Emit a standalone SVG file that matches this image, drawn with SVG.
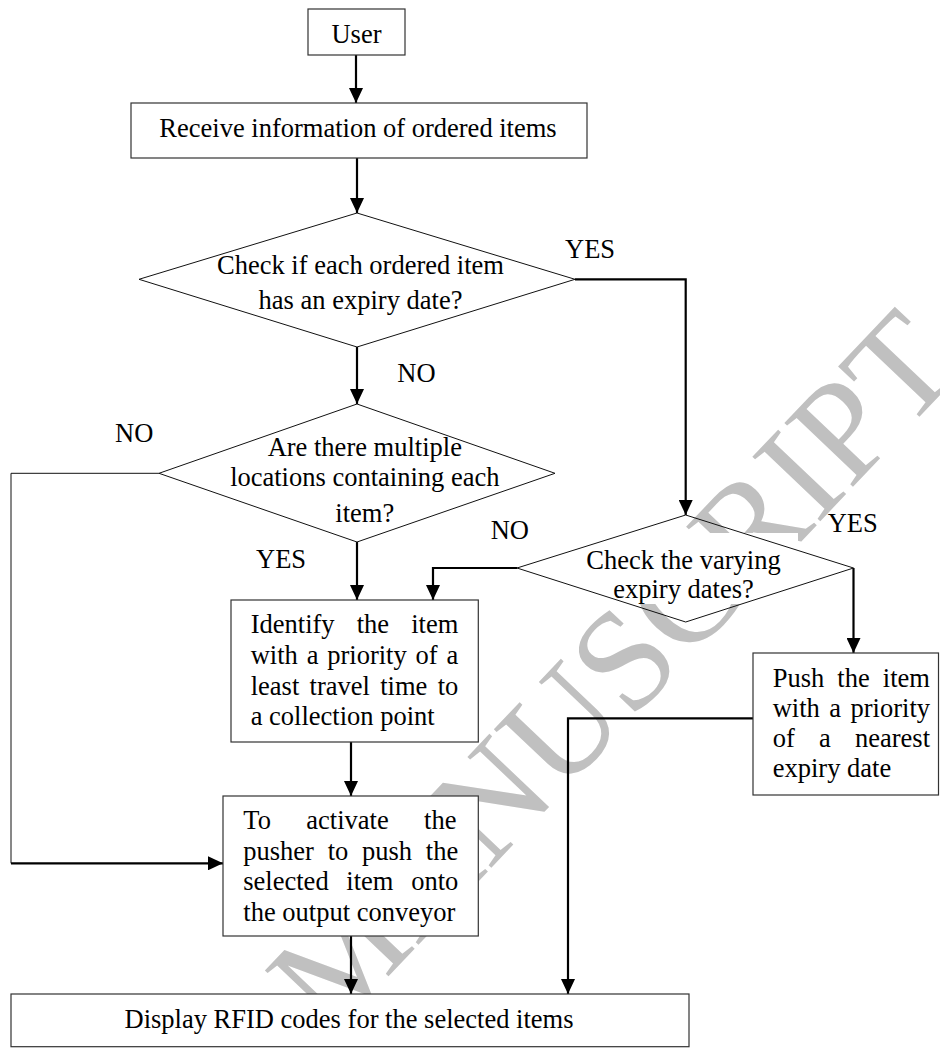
<svg xmlns="http://www.w3.org/2000/svg" width="940" height="1048" viewBox="0 0 940 1048">
<defs>
<marker id="ah" markerUnits="userSpaceOnUse" markerWidth="15" markerHeight="14" refX="15" refY="7" orient="auto">
<path d="M0,0 L15,7 L0,14 z" fill="#000"/>
</marker>
<style>
.box{fill:#fff;stroke:#333;stroke-width:1.2}
.dia{fill:none;stroke:#111;stroke-width:1}
.t{font-family:"Liberation Serif","Times New Roman",serif;font-size:26.5px;fill:#000}
.c{text-anchor:middle}
.con{fill:none;stroke:#000;stroke-width:2.2}
.thin{fill:none;stroke:#111;stroke-width:1}
.wm{font-family:"Liberation Serif","Times New Roman",serif;font-size:143px;fill:#c0c0c0}
.tb{fill:#fff;stroke:none}
</style>
</defs>
<rect width="940" height="1048" fill="#fff"/>
<text class="wm" transform="translate(330,1038) rotate(-46.5)">MANUSCRIPT</text>
<rect class="tb" x="572" y="533" width="226" height="71"/>

<g id="connectors">
<path class="con" d="M356,55 V103" marker-end="url(#ah)"/>
<path class="con" d="M357,158 V213" marker-end="url(#ah)"/>
<path class="con" d="M575,279.3 H685.7 V515" marker-end="url(#ah)"/>
<path class="con" d="M357,347 V404" marker-end="url(#ah)"/>
<path class="thin" d="M159,473.3 H11 V863.3"/>
<path class="con" d="M11,863.3 H223" marker-end="url(#ah)"/>
<path class="con" d="M357,542 V600" marker-end="url(#ah)"/>
<path class="con" d="M517,568 H433 V600" marker-end="url(#ah)"/>
<path class="con" d="M853.5,568 V653" marker-end="url(#ah)"/>
<path class="con" d="M351,742 V796" marker-end="url(#ah)"/>
<path class="con" d="M351,936 V994" marker-end="url(#ah)"/>
<path class="con" d="M753,718.3 H568 V994" marker-end="url(#ah)"/>
</g>

<g id="user">
<rect class="box" x="308" y="9" width="97" height="46"/>
<text class="t c" x="356.5" y="43.3">User</text>
</g>
<g id="receive">
<rect class="box" x="131" y="103" width="456" height="55"/>
<text class="t c" x="358" y="136.7">Receive information of ordered items</text>
</g>
<g id="check-expiry">
<polygon class="dia" points="357,213 575,279.3 357,347 139,279.3"/>
<text class="t c" x="360.5" y="274">Check if each ordered item</text>
<text class="t c" x="360.5" y="309.3">has an expiry date?</text>
</g>
<g id="multiple-locations">
<polygon class="dia" points="357,404 555,473.3 357,542 159,473.3"/>
<text class="t c" x="364.8" y="456">Are there multiple</text>
<text class="t c" x="364.8" y="486">locations containing each</text>
<text class="t c" x="364.8" y="521.7">item?</text>
</g>
<g id="varying-dates">
<polygon class="dia" points="685.7,515 853.5,568 685.7,622 517,568"/>
<text class="t c" x="683.5" y="569">Check the varying</text>
<text class="t c" x="683.5" y="598">expiry dates?</text>
</g>
<g id="identify">
<rect class="box" x="231" y="600" width="247.3" height="142"/>
<text class="t" x="250.7" y="633.3" word-spacing="15.5">Identify the item</text>
<text class="t" x="250.7" y="664" word-spacing="2.2">with a priority of a</text>
<text class="t" x="250.7" y="695" word-spacing="3.7">least travel time to</text>
<text class="t" x="250.7" y="725">a collection point</text>
</g>
<g id="push-nearest">
<rect class="box" x="753" y="653" width="185.5" height="142"/>
<text class="t" x="772.7" y="686.7" word-spacing="6.5">Push the item</text>
<text class="t" x="772.7" y="716.7" word-spacing="2.85">with a priority</text>
<text class="t" x="772.7" y="746.7" word-spacing="17.6">of a nearest</text>
<text class="t" x="772.7" y="776.7">expiry date</text>
</g>
<g id="activate">
<rect class="box" x="223" y="796" width="255.3" height="140"/>
<text class="t" x="243.3" y="829.3" word-spacing="28.75">To activate the</text>
<text class="t" x="243.3" y="860" word-spacing="7.1">pusher to push the</text>
<text class="t" x="243.3" y="890" word-spacing="11.1">selected item onto</text>
<text class="t" x="243.3" y="920.7">the output conveyor</text>
</g>
<g id="display">
<rect class="box" x="11" y="994" width="678" height="52.7"/>
<text class="t c" x="349" y="1028.3">Display RFID codes for the selected items</text>
</g>
<g id="labels">
<text class="t" x="565" y="258.3">YES</text>
<text class="t" x="397.3" y="381.7">NO</text>
<text class="t" x="115" y="442.3">NO</text>
<text class="t" x="256" y="568.3">YES</text>
<text class="t" x="490.7" y="539">NO</text>
<text class="t" x="827.7" y="531.7">YES</text>
</g>
</svg>
